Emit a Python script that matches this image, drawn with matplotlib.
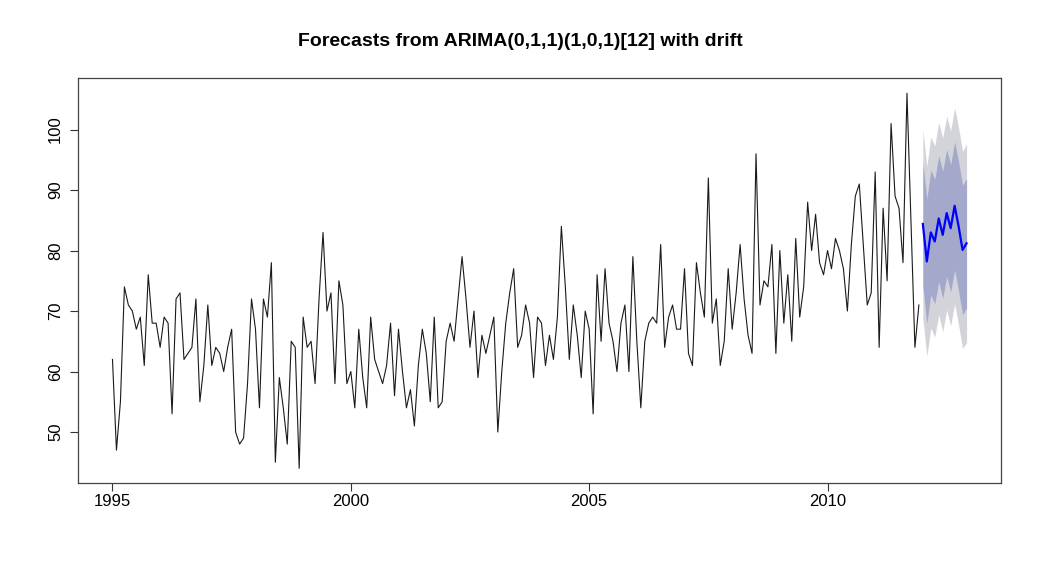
import numpy as np
import matplotlib
matplotlib.use("Agg")
import matplotlib.pyplot as plt

plt.rcParams['font.family'] = ['Liberation Sans', 'DejaVu Sans']

# --- monthly series, Jan 1995 .. Dec 2011 ---
start_year = 1995
series = [
    62, 47, 55, 74, 71, 70, 67, 69, 61, 76, 68, 68,   # 1995
    64, 69, 68, 53, 72, 73, 62, 63, 64, 72, 55, 61,   # 1996
    71, 61, 64, 63, 60, 64, 67, 50, 48, 49, 58, 72,   # 1997
    67, 54, 72, 69, 78, 45, 59, 54, 48, 65, 64, 44,   # 1998
    69, 64, 65, 58, 72, 83, 70, 73, 58, 75, 71, 58,   # 1999
    60, 54, 67, 59, 54, 69, 62, 60, 58, 61, 68, 56,   # 2000
    67, 60, 54, 57, 51, 61, 67, 63, 55, 69, 54, 55,   # 2001
    65, 68, 65, 72, 79, 72, 64, 70, 59, 66, 63, 66,   # 2002
    69, 50, 60, 68, 73, 77, 64, 66, 71, 68, 59, 69,   # 2003
    68, 61, 66, 62, 69, 84, 74, 62, 71, 66, 59, 70,   # 2004
    67, 53, 76, 65, 77, 68, 65, 60, 68, 71, 60, 79,   # 2005
    65, 54, 65, 68, 69, 68, 81, 64, 69, 71, 67, 67,   # 2006
    77, 63, 61, 78, 73, 69, 92, 68, 72, 61, 65, 77,   # 2007
    67, 73, 81, 72, 66, 63, 96, 71, 75, 74, 81, 63,   # 2008
    80, 68, 76, 65, 82, 69, 74, 88, 80, 86, 78, 76,   # 2009
    80, 77, 82, 80, 77, 70, 81, 89, 91, 81, 71, 73,   # 2010
    93, 64, 87, 75, 101, 89, 87, 78, 106, 85, 64, 71, # 2011
]

# --- forecasts for 2012 ---
fc_mean = [84.4, 78.2, 83.0, 81.5, 85.3, 82.6, 86.2, 83.7, 87.4, 84.0, 80.1, 81.2]
fc_lo80 = [74.2, 67.9, 72.7, 71.2, 74.9, 72.1, 75.7, 73.2, 76.8, 73.3, 69.4, 70.5]
fc_hi80 = [94.6, 88.5, 93.3, 91.8, 95.7, 93.1, 96.7, 94.2, 98.0, 94.7, 90.8, 91.9]
fc_lo95 = [68.8, 62.5, 67.2, 65.7, 69.4, 66.6, 70.2, 67.6, 71.2, 67.7, 63.8, 64.8]
fc_hi95 = [100.0, 93.9, 98.8, 97.3, 101.2, 98.6, 102.2, 99.8, 103.6, 100.3, 96.4, 97.6]

xticks = [1995, 2000, 2005, 2010]
yticks = [50, 60, 70, 80, 90, 100]
title = "Forecasts from ARIMA(0,1,1)(1,0,1)[12] with drift"

t = start_year + np.arange(len(series)) / 12
tf = t[-1] + (np.arange(len(fc_mean)) + 1) / 12

fig = plt.figure(figsize=(10.41, 5.82), dpi=100)
ax = fig.add_axes([78.3 / 1041, 1 - 483.3 / 582, (1000.7 - 78.3) / 1041, (483.3 - 78.3) / 582])

ax.fill_between(tf, fc_lo95, fc_hi95, color='#d3d3da', lw=0)
ax.fill_between(tf, fc_lo80, fc_hi80, color='#a4a8cb', lw=0)
ax.plot(t, series, color='#1a1a1a', lw=0.8)
ax.plot(tf, fc_mean, color='#0000ff', lw=1.6)

ax.set_xlim(1994.283, 2013.633)
ax.set_ylim(41.52, 108.48)
ax.set_xticks(xticks)
ax.set_yticks(yticks)
ax.set_xticklabels([str(v) for v in xticks])
ax.set_yticklabels([str(v) for v in yticks], rotation=90, va='center')
ax.tick_params(axis='both', direction='out', length=6, width=0.8, color='#333333',
               labelsize=12)
ax.tick_params(axis='x', pad=1.5)
ax.tick_params(axis='y', pad=5)
for s in ax.spines.values():
    s.set_color('#444444')
    s.set_linewidth(0.9)

fig.text(520 / 1041, 1 - 42 / 582, title, ha='center', va='center',
         fontsize=14, fontweight='bold')

fig.savefig("out.png", dpi=100)
